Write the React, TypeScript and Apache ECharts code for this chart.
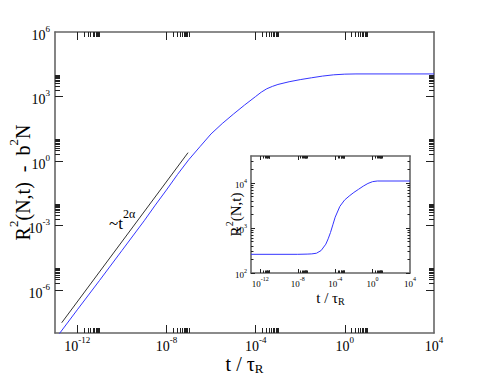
import React, { useEffect, useRef } from 'react';
import * as echarts from 'echarts';

// ---- data ----
// main panel: R^2(N,t) - b^2 N versus t / tau_R
const mainT = [1e-13, 1e-12, 1e-11, 1e-10, 1e-9, 3.16e-9, 1e-8, 3.16e-8, 1e-7, 3.16e-7, 1e-6, 3.16e-6, 1e-5, 3.16e-5, 1e-4, 1.78e-4, 3.16e-4, 5.62e-4, 1e-3, 3.16e-3, 1e-2, 3.16e-2, 0.1, 0.316, 1, 3.16, 1e4];
const mainMsd = [5.0e-9, 1.2e-7, 2.8e-6, 6.8e-5, 1.66e-3, 8.9e-3, 4.5e-2, 0.24, 1.15, 4.6, 18.2, 55, 151, 398, 1000, 1585, 2290, 2950, 3630, 4850, 6100, 7400, 8900, 10200, 10950, 11220, 11220];
// guide line ~ t^{2 alpha}
const guideT = [2.0e-13, 9.3e-8];
const guideMsd = [3.0e-8, 2.45];
// inset: R^2(N,t) versus t / tau_R
const insetT = [1e-13, 1e-8, 1e-7, 3.16e-7, 1e-6, 3.16e-6, 1e-5, 1.78e-5, 3.16e-5, 5.62e-5, 1e-4, 3.16e-4, 1e-3, 3.16e-3, 1e-2, 3.16e-2, 0.1, 0.316, 1, 3.16, 1e4];
const insetMsd = [260, 260, 263, 266, 275, 316, 437, 575, 794, 1175, 1740, 3020, 4170, 5130, 6170, 7240, 8510, 9770, 10720, 11070, 11070];

// tick labels (decade exponents)
const mainXLabels = [-12, -8, -4, 0, 4];
const mainXMajor = [-12, -8, -4, 0];
const mainYLabels = [-6, -3, 0, 3, 6];
const mainYMajor = [-6, -3, 0, 3];
const insetXLabels = [-12, -8, -4, 0, 4];
const insetXMajor = [-12, -8, -4, 0];
const insetYLabels = [2, 3, 4];

const F = '"Liberation Serif", "Times New Roman", "DejaVu Serif", serif';
const LINE = '#666';
const TICK = '#222';

const lg = (v: number) => Math.log10(v);
const cluster = (majors: number[], kmax: number) =>
  majors.flatMap((m) => Array.from({ length: kmax - 1 }, (_, i) => m + Math.log10(i + 2)));

const supRich = (fs: number, ss: number) => ({
  b: { fontSize: fs, fontFamily: F, color: '#000', lineHeight: fs + 2, padding: [Math.round(fs * 0.3), 0, Math.round(fs * 0.3), 0], verticalAlign: 'top' },
  s: { fontSize: ss, fontFamily: F, color: '#000', lineHeight: ss + 1, verticalAlign: 'top' },
});

type AxOpt = {
  grid: number; pos: string; min: number; max: number; ticks: number[]; len: number; line: boolean;
  labels?: number[]; fs?: number; ss?: number; margin?: number;
  name?: string; nameGap?: number; nameRich?: any;
};
const mkAxis = (o: AxOpt) => ({
  type: 'value',
  gridIndex: o.grid,
  position: o.pos,
  min: o.min,
  max: o.max,
  splitLine: { show: false },
  axisLine: { show: o.line, onZero: false, lineStyle: { color: LINE, width: 1.6 } },
  axisTick: { show: true, inside: true, length: o.len, customValues: o.ticks, lineStyle: { color: TICK, width: 1 } },
  axisLabel: o.labels
    ? { show: true, customValues: o.labels, margin: o.margin, formatter: (v: number) => `{b|10}{s|${v}}`, rich: supRich(o.fs!, o.ss!) }
    : { show: false },
  name: o.name ?? '',
  nameLocation: 'middle',
  nameGap: o.nameGap ?? 0,
  nameMoveOverlap: false,
  nameTextStyle: { fontFamily: F, color: '#000', rich: o.nameRich },
});

export default function App() {
  const ref = useRef<HTMLDivElement>(null);
  useEffect(() => {
    if (!ref.current) return;
    const chart = echarts.init(ref.current, undefined, { renderer: 'svg' });

    const mX = { min: -13, max: 4 };
    const mY = { min: -8, max: 6 };
    const iX = { min: -13, max: 4 };
    const iY = { min: 2, max: 4.6 };

    const mainXMinor = cluster(mainXMajor, 10);
    const mainYMinor = cluster(mainYMajor, 10);
    const insetXMinor = cluster(insetXMajor, 10);
    const insetYMajor = [2, 3, 4];
    const insetYMinor = cluster(insetYMajor, 9).filter((v) => v < iY.max);

    const titleRich = {
      a: { fontSize: 20, fontFamily: F, color: '#000', lineHeight: 22, padding: [6, 0, 0, 0], verticalAlign: 'top' },
      s: { fontSize: 13, fontFamily: F, color: '#000', lineHeight: 13, verticalAlign: 'top' },
      r: { fontSize: 13, fontFamily: F, color: '#000', lineHeight: 13, padding: [14, 0, 0, 0], verticalAlign: 'top' },
    };
    const insetTitleRich = {
      a: { fontSize: 15, fontFamily: F, color: '#000', lineHeight: 16, padding: [4, 0, 0, 0], verticalAlign: 'top' },
      s: { fontSize: 10, fontFamily: F, color: '#000', lineHeight: 10, verticalAlign: 'top' },
      r: { fontSize: 10, fontFamily: F, color: '#000', lineHeight: 10, padding: [10, 0, 0, 0], verticalAlign: 'top' },
    };

    const xAxis = [
      mkAxis({ grid: 0, pos: 'bottom', ...mX, ticks: mainXMajor, len: 8, line: true, labels: mainXLabels, fs: 14, ss: 9, margin: 2, name: '{a|t / τ}{r|R}', nameGap: 15, nameRich: titleRich }),
      mkAxis({ grid: 0, pos: 'bottom', ...mX, ticks: mainXMinor, len: 5, line: false }),
      mkAxis({ grid: 0, pos: 'top', ...mX, ticks: mainXMajor, len: 8, line: true }),
      mkAxis({ grid: 0, pos: 'top', ...mX, ticks: mainXMinor, len: 5, line: false }),
      mkAxis({ grid: 1, pos: 'bottom', ...iX, ticks: insetXMajor, len: 4, line: true, labels: insetXLabels, fs: 9, ss: 6, margin: 3, name: '{a|t / τ}{r|R}', nameGap: 13, nameRich: insetTitleRich }),
      mkAxis({ grid: 1, pos: 'bottom', ...iX, ticks: insetXMinor, len: 2.5, line: false }),
      mkAxis({ grid: 1, pos: 'top', ...iX, ticks: insetXMajor, len: 4, line: true }),
      mkAxis({ grid: 1, pos: 'top', ...iX, ticks: insetXMinor, len: 2.5, line: false }),
    ];
    const yAxis = [
      mkAxis({ grid: 0, pos: 'left', ...mY, ticks: mainYMajor, len: 8, line: true, labels: mainYLabels, fs: 14, ss: 9, margin: 5, name: '{a|R}{s|2}{a|(N,t)  -  b}{s|2}{a|N}', nameGap: 26, nameRich: titleRich }),
      mkAxis({ grid: 0, pos: 'left', ...mY, ticks: mainYMinor, len: 5, line: false }),
      mkAxis({ grid: 0, pos: 'right', ...mY, ticks: mainYMajor, len: 8, line: true }),
      mkAxis({ grid: 0, pos: 'right', ...mY, ticks: mainYMinor, len: 5, line: false }),
      mkAxis({ grid: 1, pos: 'left', ...iY, ticks: insetYMajor, len: 4, line: true, labels: insetYLabels, fs: 9, ss: 6, margin: 4, name: '{a|R}{s|2}{a|(N,t)}', nameGap: 11, nameRich: insetTitleRich }),
      mkAxis({ grid: 1, pos: 'left', ...iY, ticks: insetYMinor, len: 2.5, line: false }),
      mkAxis({ grid: 1, pos: 'right', ...iY, ticks: insetYMajor, len: 4, line: true }),
      mkAxis({ grid: 1, pos: 'right', ...iY, ticks: insetYMinor, len: 2.5, line: false }),
    ];

    chart.setOption({
      animation: false,
      backgroundColor: '#fff',
      grid: [
        { left: 55, top: 32, width: 379, height: 301, outerBoundsMode: 'none', containLabel: false, show: false },
        { left: 251, top: 156, width: 159, height: 117, outerBoundsMode: 'none', containLabel: false, show: true, backgroundColor: '#fff', borderWidth: 0 },
      ],
      xAxis,
      yAxis,
      series: [
        {
          type: 'line', xAxisIndex: 0, yAxisIndex: 0, showSymbol: false, clip: true,
          lineStyle: { color: '#3535ff', width: 1 },
          data: mainT.map((t, i) => [lg(t), lg(mainMsd[i])]),
          z: 2,
        },
        {
          type: 'line', xAxisIndex: 0, yAxisIndex: 0, showSymbol: false, clip: true,
          lineStyle: { color: '#333', width: 1 },
          data: guideT.map((t, i) => [lg(t), lg(guideMsd[i])]),
          z: 2,
        },
        {
          type: 'line', xAxisIndex: 4, yAxisIndex: 4, showSymbol: false, clip: true,
          lineStyle: { color: '#3535ff', width: 1 },
          data: insetT.map((t, i) => [lg(t), lg(insetMsd[i])]),
          z: 4,
        },
      ],
      graphic: [
        {
          type: 'text', x: 109, y: 208, z: 10,
          style: {
            text: '{a|~t}{s|2α}',
            rich: {
              a: { fontSize: 17, fontFamily: F, fill: '#000', lineHeight: 18, padding: [7, 0, 0, 0], verticalAlign: 'top' },
              s: { fontSize: 12, fontFamily: F, fill: '#000', lineHeight: 12, verticalAlign: 'top' },
            },
          },
        },
      ],
    });
    return () => chart.dispose();
  }, []);
  return <div ref={ref} style={{ width: 491, height: 379, position: 'absolute', left: 0, top: 0 }} />;
}
